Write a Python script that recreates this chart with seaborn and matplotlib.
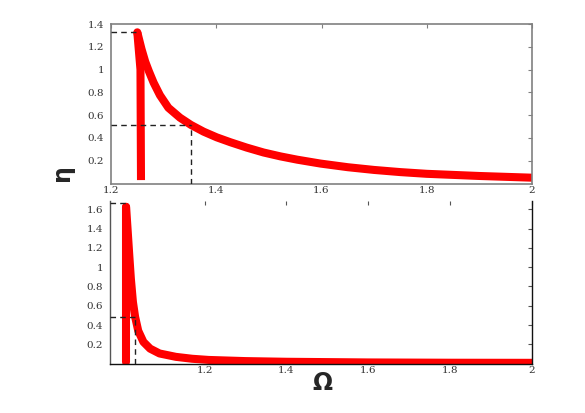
import matplotlib
matplotlib.use("Agg")
import matplotlib.pyplot as plt
import seaborn as sns
import pandas as pd

# ---------------- data ----------------
# upper panel
top_curve_omega = [1.250, 1.258, 1.265, 1.272, 1.281, 1.293, 1.309, 1.331,
                   1.352, 1.376, 1.401, 1.427, 1.458, 1.49, 1.522, 1.554,
                   1.598, 1.65, 1.7, 1.75, 1.8, 1.9, 2.0]
top_curve_eta = [1.327, 1.18, 1.07, 0.985, 0.885, 0.775, 0.665, 0.578,
                 0.514, 0.455, 0.405, 0.362, 0.315, 0.272, 0.238, 0.209,
                 0.175, 0.143, 0.119, 0.100, 0.085, 0.066, 0.051]
top_bar_omega = [1.250, 1.256, 1.257]
top_bar_eta = [1.327, 1.0, 0.03]
top_peak = (1.250, 1.33)
top_mark = (1.352, 0.514)

# lower panel
bot_curve_omega = [1.0083, 1.012, 1.016, 1.020, 1.025, 1.0303, 1.038, 1.0506,
                   1.067, 1.09, 1.13, 1.17, 1.21, 1.3, 1.4, 1.6, 1.8, 2.0]
bot_curve_eta = [1.626, 1.39, 1.13, 0.88, 0.64, 0.486, 0.34, 0.225,
                 0.155, 0.105, 0.07, 0.05, 0.038, 0.026, 0.019, 0.012, 0.009, 0.008]
bot_bar_omega = [1.0083, 1.0083]
bot_bar_eta = [1.626, 0.02]
bot_peak = (1.0083, 1.668)
bot_mark = (1.030, 0.486)

x_ticks = [1.2, 1.4, 1.6, 1.8, 2.0]
x_labels = ["1.2", "1.4", "1.6", "1.8", "2"]
top_y_ticks = [0.2, 0.4, 0.6, 0.8, 1.0, 1.2, 1.4]
top_y_labels = ["0.2", "0.4", "0.6", "0.8", "1", "1.2", "1.4"]
bot_y_ticks = [0.2, 0.4, 0.6, 0.8, 1.0, 1.2, 1.4, 1.6]
bot_y_labels = ["0.2", "0.4", "0.6", "0.8", "1", "1.2", "1.4", "1.6"]

# ---------------- figure ----------------
sns.set_style("white")
plt.rcParams["font.family"] = ["DejaVu Serif", "Liberation Serif"]

fig = plt.figure(figsize=(5.85, 4.13), dpi=100)
ax1 = fig.add_axes([111 / 585, 1 - 183.5 / 413, 421 / 585, 159.5 / 413])
ax2 = fig.add_axes([110 / 585, 1 - 363.6 / 413, 422 / 585, 162.6 / 413])

RED = "#ff0000"
LW = 5.8


def draw(ax, x, y, cap):
    df = pd.DataFrame({"Omega": x, "eta": y})
    sns.lineplot(data=df, x="Omega", y="eta", ax=ax, sort=False, estimator=None,
                 color=RED, lw=LW, solid_capstyle=cap, solid_joinstyle="round")


dash = dict(color="#222222", lw=1.0, ls=(0, (4, 3)), zorder=5)

# upper panel
draw(ax1, top_bar_omega, top_bar_eta, "butt")
draw(ax1, top_curve_omega, top_curve_eta, "round")
ax1.plot([1.2, top_peak[0]], [top_peak[1], top_peak[1]], **dash)
ax1.plot([1.2, top_mark[0]], [top_mark[1], top_mark[1]], **dash)
ax1.plot([top_mark[0], top_mark[0]], [0, top_mark[1]], **dash)
ax1.set_xlim(1.2, 2.0)
ax1.set_ylim(0, 1.4)
ax1.set_xticks(x_ticks, x_labels)
ax1.set_yticks(top_y_ticks, top_y_labels)
for s in ax1.spines.values():
    s.set_color("#808080")
    s.set_linewidth(1.2)
ax1.tick_params(direction="in", length=3, width=0.8, color="#808080",
                labelsize=7.5, labelcolor="#333333", top=True, right=True)
ax1.tick_params(axis="x", pad=1.5)
ax1.tick_params(axis="y", pad=5)
ax1.set_xlabel("")
ax1.set_ylabel("")

# lower panel
draw(ax2, bot_bar_omega, bot_bar_eta, "round")
draw(ax2, bot_curve_omega, bot_curve_eta, "round")
ax2.plot([0.969, bot_peak[0]], [bot_peak[1], bot_peak[1]], **dash)
ax2.plot([0.969, bot_mark[0]], [bot_mark[1], bot_mark[1]], **dash)
ax2.plot([bot_mark[0], bot_mark[0]], [0, bot_mark[1]], **dash)
ax2.set_xlim(0.969, 2.0)
ax2.set_ylim(0, 1.686)
ax2.set_xticks(x_ticks, x_labels)
ax2.set_yticks(bot_y_ticks, bot_y_labels)
ax2.spines["top"].set_visible(False)
for k in ["left", "right", "bottom"]:
    ax2.spines[k].set_color("#111111")
    ax2.spines[k].set_linewidth(1.0)
ax2.spines["left"].set_color("#555555")
ax2.tick_params(direction="in", length=3, width=0.8, color="#555555",
                labelsize=7.5, labelcolor="#333333", top=True, right=True)
ax2.tick_params(axis="x", pad=1.5)
ax2.tick_params(axis="y", pad=5)
ax2.set_xlabel("")
ax2.set_ylabel("")

fig.text(62 / 585, 1 - 173 / 413, "η", rotation=90, fontsize=17, fontweight="bold",
         family=["DejaVu Sans"], ha="center", va="center")
fig.text(322 / 585, 1 - 383 / 413, "Ω", fontsize=17, fontweight="bold",
         family=["DejaVu Sans"], ha="center", va="center")

fig.savefig("out.png", dpi=100)
